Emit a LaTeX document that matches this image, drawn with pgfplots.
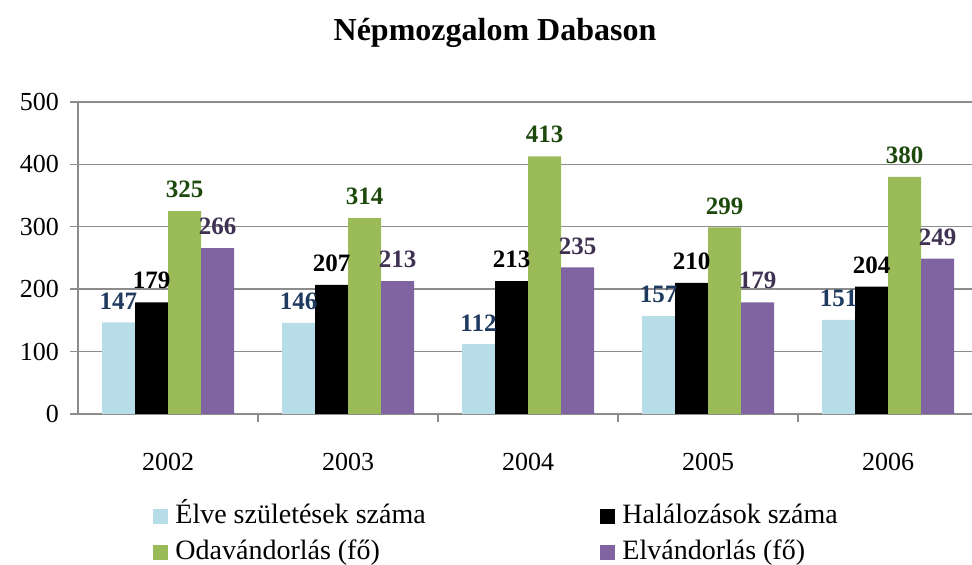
\documentclass[border=0pt]{standalone}
\usepackage{fontspec}
\setmainfont{Liberation Serif}
\usepackage{pgfplots}
\pgfplotsset{compat=1.18}

\definecolor{barBlue}{HTML}{B7DEE8}
\definecolor{barGreen}{HTML}{9BBB59}
\definecolor{barPurple}{HTML}{8064A2}
\definecolor{lblBlue}{HTML}{1F3A5F}
\definecolor{lblGreen}{HTML}{1D4A0C}
\definecolor{lblPurple}{HTML}{3F3151}
\definecolor{axGray}{HTML}{8C8C8C}

\pgfplotsset{
  sq legend/.style={legend image code/.code={\fill[##1] (0pt,-3.75pt) rectangle (7.5pt,3.75pt);}},
}

\begin{document}
\begin{tikzpicture}
\useasboundingbox (-39pt,-75.5pt) rectangle (447pt,207pt);
\begin{axis}[
  at={(0,0)}, anchor=south west,
  scale only axis, width=450pt, height=156pt,
  xmin=-0.5, xmax=4.5, ymin=0, ymax=500,
  ybar=0pt, bar width=16.5pt,
  ytick={0,100,...,500},
  xtick={0,...,4},
  xticklabels={2002,2003,2004,2005,2006},
  minor xtick={0.5,1.5,2.5,3.5},
  major x tick style={draw=none},
  minor tick length=4pt, major tick length=4pt,
  tick align=outside,
  axis x line*=bottom, axis y line*=left,
  axis line style={draw=axGray, line width=0.7pt},
  every tick/.style={draw=axGray, line width=0.7pt},
  ymajorgrids, grid style={draw=axGray, line width=0.7pt},
  /pgf/number format/assume math mode=true,
  tick label style={font=\fontsize{13}{15}\selectfont},
  xticklabel style={yshift=-12pt},
  yticklabel style={xshift=-2pt},
  nodes near coords,
  every node near coord/.append style={font=\fontsize{12.5}{14}\selectfont\bfseries, yshift=3pt},
  legend columns=2,
  legend cell align=left,
  legend style={at={(axis description cs:0.0767,-0.262)}, anchor=north west,
    draw=none, fill=none, font=\fontsize{14}{16}\selectfont,
    row sep=2pt, nodes={inner sep=1.5pt, text height=10pt, text depth=3pt}},
]
\addplot[fill=barBlue, draw=none, sq legend,
  every node near coord/.append style={text=lblBlue}]
  coordinates {(0,147) (1,146) (2,112) (3,157) (4,151)};
\addlegendentry{\makebox[213pt][l]{\hspace{2pt}Élve születések száma}}
\addplot[fill=black, draw=none, sq legend,
  every node near coord/.append style={text=black}]
  coordinates {(0,179) (1,207) (2,213) (3,210) (4,204)};
\addlegendentry{\hspace{2pt}Halálozások száma}
\addplot[fill=barGreen, draw=none, sq legend,
  every node near coord/.append style={text=lblGreen}]
  coordinates {(0,325) (1,314) (2,413) (3,299) (4,380)};
\addlegendentry{\makebox[213pt][l]{\hspace{2pt}Odavándorlás (fő)}}
\addplot[fill=barPurple, draw=none, sq legend,
  every node near coord/.append style={text=lblPurple}]
  coordinates {(0,266) (1,213) (2,235) (3,179) (4,249)};
\addlegendentry{\hspace{2pt}Elvándorlás (fő)}
\end{axis}
\node[font=\fontsize{16}{19}\selectfont\bfseries] at (208.5pt,190.5pt) {Népmozgalom Dabason};
\end{tikzpicture}
\end{document}
